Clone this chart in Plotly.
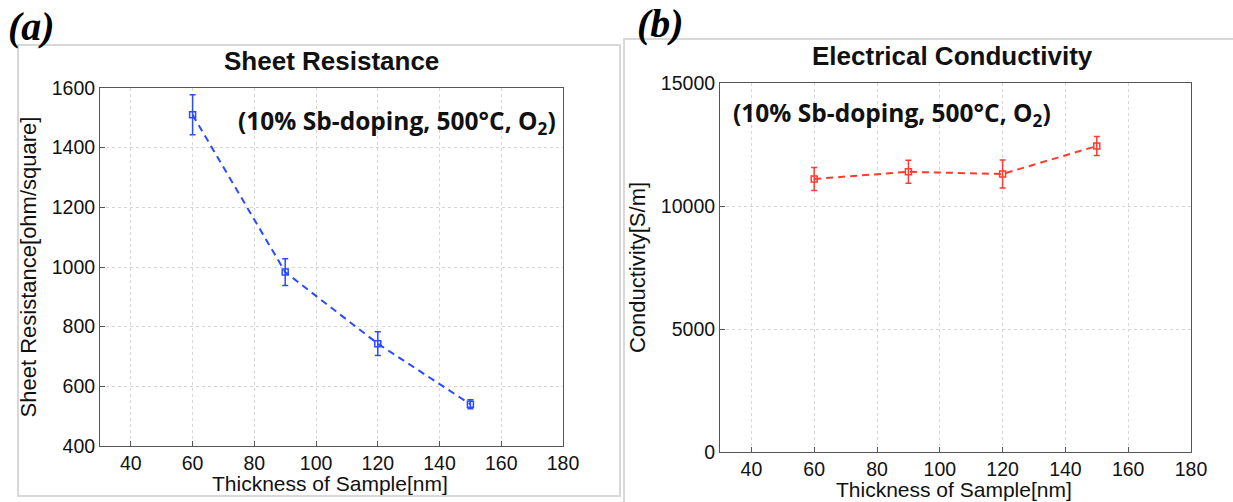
import plotly.graph_objects as go

W, H = 1233, 502

thickness = [60, 90, 120, 150]
sheet_res = [1510, 983, 743, 540]
sheet_res_err = [67, 45, 40, 15]
conductivity = [11100, 11390, 11300, 12440]
conductivity_err = [470, 470, 570, 390]

x_ticks = [40, 60, 80, 100, 120, 140, 160, 180]
y1_ticks = [400, 600, 800, 1000, 1200, 1400, 1600]
y2_ticks = [0, 5000, 10000, 15000]

x_title = "Thickness of Sample[nm]"
y1_title = "Sheet Resistance[ohm/square]"
y2_title = "Conductivity[S/m]"

FONT = "Liberation Sans, Arial, Helvetica, sans-serif"

def px(x):
    return x / W

def py(y):
    return 1 - y / H

fig = go.Figure()

fig.add_trace(go.Scatter(
    x=thickness, y=sheet_res, mode="lines+markers",
    line=dict(color="#2a4bff", width=2, dash="7px,5px"),
    marker=dict(symbol="square-open", size=6, color="#2a4bff", line=dict(width=1.5)),
    error_y=dict(type="data", array=sheet_res_err, color="#2a4bff", thickness=1.5, width=3),
    xaxis="x", yaxis="y", showlegend=False))

fig.add_trace(go.Scatter(
    x=thickness, y=conductivity, mode="lines+markers",
    line=dict(color="#ff3b30", width=2, dash="7px,5px"),
    marker=dict(symbol="square-open", size=6, color="#ff3b30", line=dict(width=1.5)),
    error_y=dict(type="data", array=conductivity_err, color="#ff3b30", thickness=1.5, width=3),
    xaxis="x2", yaxis="y2", showlegend=False))

axis_common = dict(
    showline=True, linecolor="#555", linewidth=1, mirror=True,
    ticks="inside", ticklen=5, tickcolor="#555",
    showgrid=True, gridcolor="#d6d6d6", griddash="dot", gridwidth=1,
    zeroline=False, tickfont=dict(family=FONT, size=19.5, color="#111"),
    tickformat="d", automargin=False,
)
ytitle_font = dict(family=FONT, size=22, color="#111")
xtitle_font = dict(family=FONT, size=21, color="#111")

fig.update_layout(
    width=W, height=H,
    margin=dict(l=0, r=0, t=0, b=0, autoexpand=False),
    paper_bgcolor="white", plot_bgcolor="white",
    xaxis=dict(domain=[px(100), px(563)], range=[30, 180], tickvals=x_ticks,
               anchor="y", **axis_common),
    yaxis=dict(domain=[py(446), py(88)], range=[400, 1600], tickvals=y1_ticks,
               anchor="x",
               title=dict(text=y1_title, font=ytitle_font, standoff=9),
               **axis_common),
    xaxis2=dict(domain=[px(720), px(1191)], range=[30, 180], tickvals=x_ticks,
                anchor="y2", **axis_common),
    yaxis2=dict(domain=[py(452), py(83)], range=[0, 15000], tickvals=y2_ticks,
                anchor="x2",
                title=dict(text=y2_title, font=ytitle_font, standoff=9),
                **axis_common),
)

# panel frames
fig.add_shape(type="rect", xref="paper", yref="paper",
              x0=px(18), x1=px(620), y0=py(496), y1=py(45),
              line=dict(color="#d8d8d8", width=2), layer="below")
fig.add_shape(type="rect", xref="paper", yref="paper",
              x0=px(624), x1=px(1240), y0=py(510), y1=py(39),
              line=dict(color="#d8d8d8", width=2), layer="below")

# x-axis titles
fig.add_annotation(xref="paper", yref="paper", x=px(330), y=py(483), xanchor="center", yanchor="middle",
                   text=x_title, showarrow=False, font=xtitle_font)
fig.add_annotation(xref="paper", yref="paper", x=px(954), y=py(489), xanchor="center", yanchor="middle",
                   text=x_title, showarrow=False, font=xtitle_font)

annos = [
    dict(text="<b>Sheet Resistance</b>", x=px(331), y=py(61)),
    dict(text="<b>Electrical Conductivity</b>", x=px(952), y=py(56)),
]
for a in annos:
    fig.add_annotation(xref="paper", yref="paper", xanchor="center", yanchor="middle",
                       showarrow=False, font=dict(family=FONT, size=26, color="#111"), **a)

serif = dict(family="Liberation Serif, Times New Roman, serif", size=40, color="#000")
fig.add_annotation(xref="paper", yref="paper", x=px(6), y=py(27), xanchor="left", yanchor="middle",
                   text="<b><i>(a)</i></b>", showarrow=False, font=serif)
fig.add_annotation(xref="paper", yref="paper", x=px(635), y=py(24), xanchor="left", yanchor="middle",
                   text="<b><i>(b)</i></b>", showarrow=False, font=serif)

cond_text = "<b>(10% Sb-doping, 500°C, O<sub>2</sub>)</b>"
cond_font = dict(family="Open Sans, Noto Sans, sans-serif", size=24.5, color="#111")
fig.add_annotation(xref="paper", yref="paper", x=px(236), y=py(122), xanchor="left", yanchor="middle",
                   text=cond_text, showarrow=False, font=cond_font)
fig.add_annotation(xref="paper", yref="paper", x=px(731), y=py(114), xanchor="left", yanchor="middle",
                   text=cond_text, showarrow=False, font=cond_font)

fig.write_html("out.html", config={"displayModeBar": False},
               post_script="document.documentElement.style.margin='0';document.body.style.margin='0';document.body.style.overflow='hidden';")
